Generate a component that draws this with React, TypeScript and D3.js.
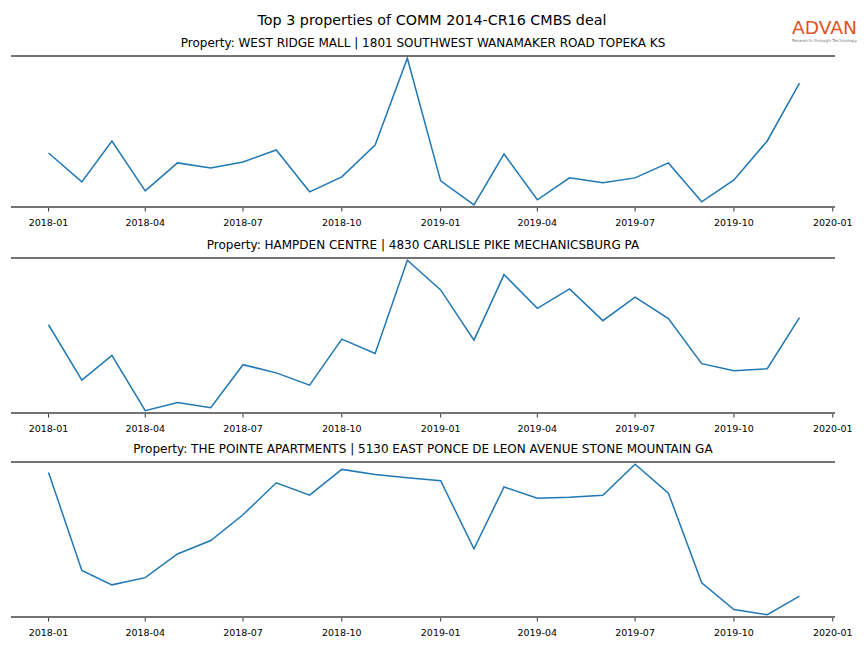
import * as d3 from "d3";

const months = [
  "2018-01", "2018-02", "2018-03", "2018-04", "2018-05", "2018-06",
  "2018-07", "2018-08", "2018-09", "2018-10", "2018-11", "2018-12",
  "2019-01", "2019-02", "2019-03", "2019-04", "2019-05", "2019-06",
  "2019-07", "2019-08", "2019-09", "2019-10", "2019-11", "2019-12",
];

const westRidge = [54, 25, 66, 16, 44, 39, 45, 57, 15, 30, 62, 149, 26, 2, 53, 7, 29, 24, 29, 44, 5, 27, 66, 124];
const hampden = [88, 34, 58, 4, 12, 7, 49, 41, 29, 74, 60, 151, 122, 73, 137, 104, 123, 92, 115, 94, 50, 43, 45, 95];
const pointe = [142, 47, 33, 40, 63, 76, 101, 132, 120, 145, 140, 137, 134, 68, 128, 117, 118, 120, 150, 122, 35, 9, 4, 22];

const titles = [
  "Property: WEST RIDGE MALL | 1801 SOUTHWEST WANAMAKER ROAD TOPEKA KS",
  "Property: HAMPDEN CENTRE | 4830 CARLISLE PIKE MECHANICSBURG PA",
  "Property: THE POINTE APARTMENTS | 5130 EAST PONCE DE LEON AVENUE STONE MOUNTAIN GA",
];
const series = [westRidge, hampden, pointe];
const tickLabels = ["2018-01", "2018-04", "2018-07", "2018-10", "2019-01", "2019-04", "2019-07", "2019-10", "2020-01"];

const W = 864;
const H = 648;
const left = 11;
const right = 835;
const panels = [
  { top: 56, bottom: 207 },
  { top: 258, bottom: 413 },
  { top: 462, bottom: 617 },
];

const parse = d3.timeParse("%Y-%m");
const dates = months.map((m) => parse(m) as Date);
const first = dates[0];
const last = dates[dates.length - 1];
const span = last.getTime() - first.getTime();
const x = d3
  .scaleTime()
  .domain([new Date(first.getTime() - span * 0.05), new Date(last.getTime() + span * 0.05)])
  .range([left, right + 2]);

const font = "DejaVu Sans, sans-serif";

function Panel({ values, title, top, bottom }: { values: number[]; title: string; top: number; bottom: number }) {
  const [lo, hi] = d3.extent(values) as [number, number];
  const pad = (hi - lo) * 0.015;
  const y = d3.scaleLinear().domain([lo - pad, hi + pad]).range([bottom, top]);
  const line = d3
    .line<number>()
    .x((_, i) => x(dates[i]))
    .y((d) => y(d));
  return (
    <g>
      <text x={(left + right) / 2} y={top - 9} textAnchor="middle" fontSize={12} fontFamily={font} fill="#000">
        {title}
      </text>
      <path d={line(values) || ""} fill="none" stroke="#1f77b4" strokeWidth={1.5} />
      <line x1={left} x2={right} y1={top} y2={top} stroke="#444" strokeWidth={1.6} />
      <line x1={left} x2={right} y1={bottom} y2={bottom} stroke="#444" strokeWidth={1.6} />
      {tickLabels.map((t) => {
        const tx = x(parse(t) as Date);
        return (
          <g key={t}>
            <line x1={tx} x2={tx} y1={bottom + 1} y2={bottom + 4.5} stroke="#000" strokeWidth={0.8} />
            <text x={tx} y={bottom + 19} textAnchor="middle" fontSize={9.5} fontFamily={font} fill="#000">
              {t}
            </text>
          </g>
        );
      })}
    </g>
  );
}

export default function App() {
  return (
    <svg
      width={W}
      height={H}
      style={{ position: "absolute", left: 0, top: 0, background: "#fff" }}
    >
      <rect width={W} height={H} fill="#fff" />
      <text x={432} y={25} textAnchor="middle" fontSize={14.3} fontFamily={font} fill="#000">
        Top 3 properties of COMM 2014-CR16 CMBS deal
      </text>
      <text x={792} y={34} fontSize={18} fontFamily={font} fill="#e2531f" textLength={65} lengthAdjust="spacingAndGlyphs">
        ADVAN
      </text>
      <text x={792} y={42} fontSize={4} fontFamily={font} fill="#777" textLength={65} lengthAdjust="spacingAndGlyphs">
        Research through Technology
      </text>
      {series.map((s, i) => (
        <Panel key={i} values={s} title={titles[i]} top={panels[i].top} bottom={panels[i].bottom} />
      ))}
    </svg>
  );
}
